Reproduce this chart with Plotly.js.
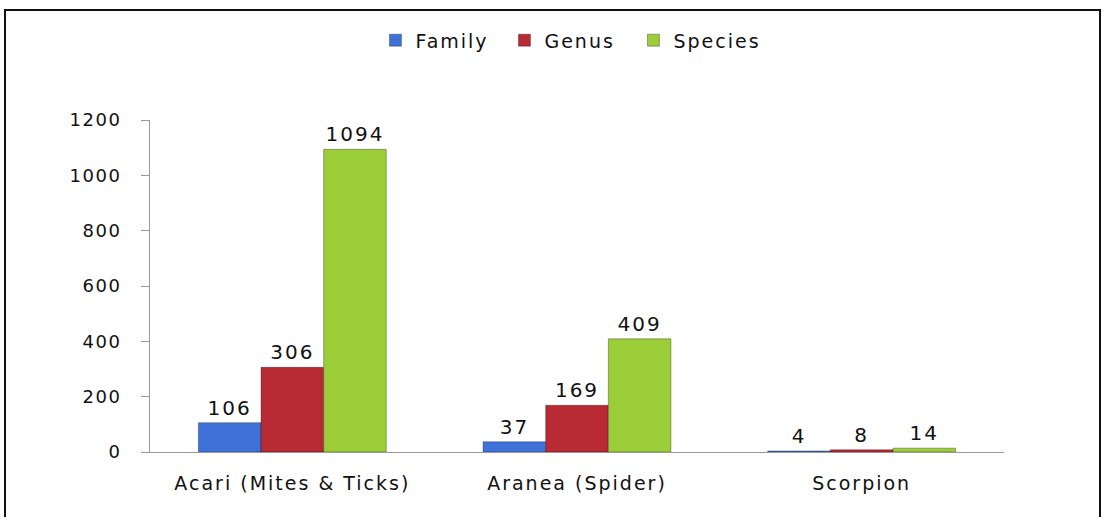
<!DOCTYPE html>
<html>
<head>
<meta charset="utf-8">
<script src="https://cdn.plot.ly/plotly-3.0.1.min.js"></script>
<style>
html,body{margin:0;padding:0;background:#fff;}
#wrap{position:relative;width:1106px;height:517px;}
#chart{width:1106px;height:517px;}
#frame{position:absolute;left:4px;top:9px;width:1097px;height:520px;border:2px solid #111;pointer-events:none;box-sizing:border-box;}
#chart .xtick text{letter-spacing:2px;}
#chart .ytick text{letter-spacing:1.5px;}
#chart .legendtext{letter-spacing:2px;}
#chart text.bartext{letter-spacing:2px;}
</style>
</head>
<body>
<div id="wrap"><div id="chart"></div><div id="frame"></div></div>
<script>
const categories = ["Acari (Mites & Ticks)", "Aranea (Spider)", "Scorpion"];
const family = [106, 37, 4];
const genus = [306, 169, 8];
const species = [1094, 409, 14];
const seriesNames = ["Family", "Genus", "Species"];
const colors = ["#3f72d8", "#b82a34", "#9acd38"];
const yTicks = [0, 200, 400, 600, 800, 1000, 1200];

const values = [family, genus, species];
const traces = values.map((v, i) => ({
  type: "bar",
  name: seriesNames[i],
  x: categories,
  y: v,
  text: v.map(String),
  textposition: "outside",
  cliponaxis: false,
  textfont: {family: "DejaVu Sans", size: 20, color: "#111"},
  marker: {color: colors[i], line: {color: "rgba(0,0,0,0.3)", width: 1}}
}));

const layout = {
  width: 1106, height: 517,
  margin: {l: 150, r: 102, t: 120, b: 65},
  paper_bgcolor: "#fff", plot_bgcolor: "#fff",
  barmode: "group",
  bargap: 0.34, bargroupgap: 0,
  showlegend: true,
  legend: {orientation: "h", x: 0.264, xanchor: "left", y: 1.24, yanchor: "middle",
           font: {family: "DejaVu Sans", size: 19, color: "#111"},
           itemwidth: 30, entrywidth: 84, traceorder: "normal"},
  xaxis: {type: "category", showline: true, linecolor: "#999", linewidth: 1,
          ticks: "", showgrid: false, ticklabelstandoff: 14,
          tickfont: {family: "DejaVu Sans", size: 19, color: "#111"}},
  yaxis: {range: [0, 1200], tickvals: yTicks, ticktext: yTicks.map(String),
          showline: true, linecolor: "#999", linewidth: 1, ticks: "outside", ticklen: 8, tickcolor: "#999",
          showgrid: false, zeroline: false, ticklabelstandoff: 16,
          tickfont: {family: "DejaVu Sans", size: 18, color: "#111"}}
};

Plotly.newPlot("chart", traces, layout, {displayModeBar: false, staticPlot: true});
</script>
</body>
</html>
